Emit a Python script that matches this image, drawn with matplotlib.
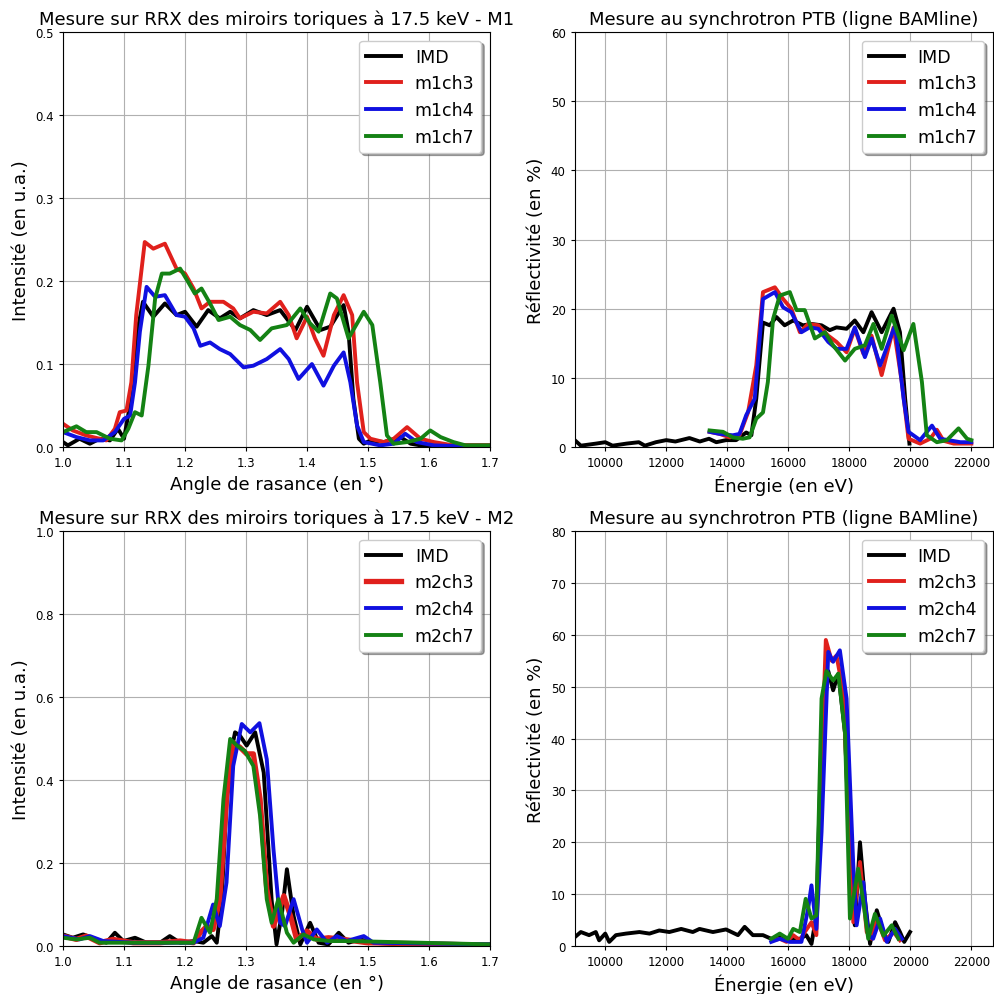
import numpy as np
import matplotlib
matplotlib.use("Agg")
import matplotlib.pyplot as plt

# --- M1 : RRX (angle, intensity) ---
m1_imd_x = [1.0, 1.008, 1.027, 1.044, 1.06, 1.077, 1.09, 1.1, 1.112, 1.122, 1.131, 1.148, 1.167, 1.186, 1.2,
            1.219, 1.238, 1.257, 1.274, 1.29, 1.312, 1.334, 1.356, 1.381, 1.4, 1.422, 1.438, 1.46, 1.468,
            1.476, 1.485, 1.493, 1.504, 1.526, 1.553, 1.57, 1.586, 1.62, 1.7]
m1_imd_y = [0.006, 0.002, 0.01, 0.004, 0.01, 0.008, 0.022, 0.01, 0.06, 0.14, 0.175, 0.157, 0.173, 0.159, 0.163,
            0.145, 0.165, 0.155, 0.163, 0.155, 0.165, 0.159, 0.165, 0.141, 0.169, 0.141, 0.145, 0.171, 0.139,
            0.058, 0.01, 0.004, 0.008, 0.006, 0.012, 0.004, 0.002, 0.002, 0.002]

m1_ch3_x = [1.0, 1.016, 1.038, 1.06, 1.071, 1.085, 1.093, 1.104, 1.112, 1.12, 1.134, 1.148, 1.167, 1.186,
            1.2, 1.214, 1.227, 1.241, 1.263, 1.279, 1.29, 1.312, 1.334, 1.356, 1.37, 1.383, 1.4, 1.413,
            1.427, 1.444, 1.46, 1.474, 1.482, 1.493, 1.504, 1.526, 1.542, 1.564, 1.586, 1.608, 1.64, 1.7]
m1_ch3_y = [0.028, 0.02, 0.014, 0.01, 0.008, 0.022, 0.042, 0.044, 0.078, 0.159, 0.247, 0.239, 0.245, 0.215,
            0.209, 0.191, 0.167, 0.175, 0.175, 0.167, 0.155, 0.163, 0.161, 0.175, 0.159, 0.131, 0.157, 0.131,
            0.11, 0.159, 0.183, 0.159, 0.078, 0.018, 0.01, 0.006, 0.01, 0.024, 0.01, 0.006, 0.002, 0.002]

m1_ch4_x = [1.0, 1.022, 1.044, 1.066, 1.085, 1.1, 1.11, 1.118, 1.126, 1.137, 1.151, 1.167, 1.186, 1.2, 1.214,
            1.225, 1.241, 1.257, 1.274, 1.296, 1.312, 1.334, 1.356, 1.37, 1.386, 1.408, 1.427, 1.444, 1.46,
            1.471, 1.482, 1.493, 1.52, 1.542, 1.561, 1.58, 1.608, 1.7]
m1_ch4_y = [0.018, 0.012, 0.008, 0.008, 0.018, 0.034, 0.038, 0.078, 0.139, 0.193, 0.181, 0.183, 0.159, 0.157,
            0.143, 0.122, 0.126, 0.118, 0.112, 0.096, 0.098, 0.106, 0.118, 0.106, 0.082, 0.1, 0.074, 0.098,
            0.114, 0.078, 0.026, 0.006, 0.002, 0.004, 0.016, 0.006, 0.002, 0.0]

m1_ch7_x = [1.0, 1.022, 1.038, 1.055, 1.077, 1.096, 1.107, 1.118, 1.129, 1.14, 1.151, 1.162, 1.175, 1.192,
            1.205, 1.216, 1.227, 1.241, 1.255, 1.274, 1.29, 1.307, 1.323, 1.342, 1.367, 1.389, 1.405, 1.419,
            1.438, 1.449, 1.468, 1.493, 1.507, 1.52, 1.531, 1.542, 1.564, 1.586, 1.602, 1.619, 1.64, 1.66, 1.7]
m1_ch7_y = [0.018, 0.025, 0.018, 0.018, 0.01, 0.008, 0.022, 0.042, 0.038, 0.098, 0.179, 0.209, 0.209, 0.215,
            0.199, 0.185, 0.191, 0.173, 0.153, 0.157, 0.147, 0.141, 0.129, 0.143, 0.147, 0.167, 0.149, 0.139,
            0.185, 0.179, 0.131, 0.163, 0.147, 0.078, 0.014, 0.004, 0.006, 0.01, 0.02, 0.012, 0.006, 0.002, 0.002]

# --- M1 : synchrotron (energy, reflectivity) ---
s1_imd_x = [9000, 9200, 9700, 10000, 10240, 10700, 11100, 11300, 11660, 12000, 12300, 12760, 13100, 13400,
            13640, 13960, 14290, 14620, 14790, 14950, 15170, 15390, 15610, 15880, 16160, 16480, 16760, 17090,
            17360, 17580, 17910, 18180, 18460, 18730, 19060, 19450, 19660, 19830, 19970]
s1_imd_y = [1.0, 0.2, 0.5, 0.7, 0.2, 0.5, 0.7, 0.2, 0.7, 1.0, 0.8, 1.3, 0.8, 1.2,
            0.7, 1.0, 1.0, 2.1, 1.7, 7.0, 18.0, 17.6, 18.8, 17.6, 18.3, 17.6, 17.8, 17.6,
            16.9, 17.3, 17.1, 18.3, 16.6, 19.5, 16.6, 20.0, 16.6, 7.0, 0.5]

s1_ch3_x = [13420, 13750, 14080, 14400, 14680, 14950, 15170, 15560, 15830, 16100, 16380, 16650, 16980,
            17310, 17580, 17910, 18180, 18460, 18730, 19060, 19450, 19720, 19940, 20320, 20650, 20870,
            21090, 21420, 22000]
s1_ch3_y = [2.2, 1.9, 1.4, 1.7, 5.0, 11.8, 22.4, 23.1, 21.4, 20.0, 16.6, 17.8, 17.6,
            16.1, 15.2, 13.7, 17.1, 13.5, 16.1, 10.4, 17.3, 9.4, 1.2, 0.5, 1.2, 2.5,
            0.9, 0.5, 0.5]

s1_ch4_x = [13420, 13750, 14180, 14400, 14620, 14900, 15170, 15560, 15830, 16100, 16430, 16700, 16980,
            17310, 17580, 17910, 18180, 18510, 18730, 19010, 19500, 19780, 19940, 20320, 20710, 20980,
            21640, 22000]
s1_ch4_y = [2.2, 1.9, 1.7, 1.9, 4.6, 7.0, 21.4, 22.4, 20.2, 19.5, 16.6, 17.3, 17.1,
            15.2, 14.2, 14.2, 17.3, 13.0, 15.7, 11.8, 17.6, 7.0, 2.2, 1.0, 3.1, 1.2,
            0.7, 0.7]

s1_ch7_x = [13420, 13860, 14180, 14510, 14730, 14950, 15170, 15330, 15500, 15720, 16050, 16270, 16540,
            16870, 17200, 17470, 17860, 18180, 18510, 18790, 19060, 19390, 19780, 20100, 20380, 20540,
            20870, 21200, 21580, 21860, 22000]
s1_ch7_y = [2.4, 2.2, 1.4, 1.2, 1.4, 4.1, 5.0, 9.4, 18.5, 21.9, 22.4, 19.8, 19.8,
            15.7, 16.6, 14.7, 12.5, 14.2, 14.7, 17.8, 14.2, 19.0, 14.0, 17.8, 9.4, 1.7,
            0.7, 1.0, 2.7, 1.2, 1.0]

# --- M2 : RRX ---
m2_imd_x = [1.0, 1.016, 1.033, 1.055, 1.071, 1.085, 1.099, 1.118, 1.137, 1.159, 1.175, 1.192, 1.214, 1.23,
            1.244, 1.252, 1.26, 1.271, 1.282, 1.29, 1.301, 1.315, 1.329, 1.342, 1.35, 1.359, 1.367, 1.378,
            1.389, 1.405, 1.419, 1.435, 1.452, 1.468, 1.487, 1.509, 1.553, 1.7]
m2_imd_y = [0.028, 0.02, 0.028, 0.016, 0.008, 0.032, 0.012, 0.02, 0.008, 0.008, 0.024, 0.008, 0.012, 0.008,
            0.024, 0.008, 0.11, 0.434, 0.515, 0.507, 0.483, 0.515, 0.418, 0.11, 0.004, 0.08, 0.185, 0.072,
            0.004, 0.056, 0.008, 0.004, 0.032, 0.008, 0.016, 0.008, 0.004, 0.004]

m2_ch3_x = [1.0, 1.022, 1.038, 1.06, 1.082, 1.115, 1.159, 1.192, 1.214, 1.225, 1.236, 1.246, 1.257, 1.268,
            1.279, 1.29, 1.301, 1.312, 1.323, 1.334, 1.345, 1.362, 1.373, 1.383, 1.4, 1.416, 1.435, 1.46,
            1.498, 1.7]
m2_ch3_y = [0.024, 0.016, 0.024, 0.008, 0.016, 0.008, 0.008, 0.012, 0.008, 0.032, 0.048, 0.04, 0.113, 0.354,
            0.49, 0.479, 0.463, 0.463, 0.354, 0.137, 0.048, 0.121, 0.072, 0.016, 0.036, 0.016, 0.02, 0.016,
            0.008, 0.002]

m2_ch4_x = [1.0, 1.027, 1.044, 1.066, 1.115, 1.17, 1.214, 1.23, 1.246, 1.257, 1.268, 1.279, 1.293, 1.307,
            1.322, 1.334, 1.345, 1.356, 1.364, 1.378, 1.392, 1.4, 1.416, 1.433, 1.449, 1.465, 1.493, 1.509, 1.7]
m2_ch4_y = [0.024, 0.016, 0.024, 0.012, 0.008, 0.008, 0.008, 0.02, 0.1, 0.048, 0.153, 0.434, 0.535, 0.515,
            0.537, 0.45, 0.233, 0.056, 0.048, 0.113, 0.04, 0.008, 0.04, 0.008, 0.024, 0.012, 0.024, 0.008, 0.004]

m2_ch7_x = [1.0, 1.022, 1.044, 1.06, 1.115, 1.214, 1.227, 1.241, 1.252, 1.263, 1.274, 1.285, 1.298, 1.312,
            1.323, 1.334, 1.342, 1.353, 1.367, 1.378, 1.394, 1.411, 1.438, 1.471, 1.7]
m2_ch7_y = [0.02, 0.016, 0.02, 0.008, 0.008, 0.008, 0.068, 0.032, 0.113, 0.354, 0.499, 0.483, 0.47, 0.434,
            0.314, 0.113, 0.056, 0.113, 0.032, 0.008, 0.028, 0.016, 0.012, 0.012, 0.004]

# --- M2 : synchrotron ---
s2_imd_x = [9000, 9200, 9470, 9690, 9800, 10000, 10130, 10350, 10680, 11120, 11450, 11770, 12100, 12490,
            12870, 13090, 13530, 13960, 14350, 14570, 14840, 15170, 15440, 15720, 16050, 16380, 16590, 16760,
            16920, 17090, 17310, 17470, 17640, 17860, 18070, 18180, 18350, 18510, 18680, 18900, 19120, 19280,
            19500, 19660, 19800, 19990]
s2_imd_y = [1.7, 2.7, 2.1, 2.7, 1.1, 2.4, 0.8, 2.1, 2.4, 2.7, 2.4, 3.0, 2.7, 3.3,
            2.7, 3.3, 2.7, 3.2, 2.1, 3.7, 2.1, 2.1, 1.4, 1.7, 1.4, 1.4, 2.1, 0.4,
            5.9, 41.0, 53.0, 49.3, 52.5, 41.0, 9.0, 4.0, 20.0, 9.0, 0.4, 6.9, 2.7, 0.8,
            4.6, 2.7, 0.8, 2.7]

s2_ch3_x = [15500, 15720, 15940, 16160, 16380, 16540, 16760, 16920, 17090, 17230, 17420, 17580, 17800,
            18020, 18130, 18350, 18570, 18730, 18900, 19170, 19450, 19660]
s2_ch3_y = [1.1, 1.4, 0.8, 2.1, 1.1, 2.7, 4.6, 2.1, 34.8, 59.0, 55.0, 56.0, 49.0,
            18.8, 4.6, 16.2, 2.7, 1.4, 5.3, 1.1, 2.7, 1.1]

s2_ch4_x = [15440, 15720, 16050, 16430, 16650, 16760, 16920, 17090, 17310, 17470, 17690, 17910, 18130,
            18240, 18460, 18620, 18780, 19010, 19230, 19500, 19720]
s2_ch4_y = [0.8, 1.4, 0.8, 0.8, 7.2, 11.7, 3.3, 22.0, 56.7, 54.8, 57.0, 47.7, 15.6,
            4.0, 12.3, 2.1, 1.4, 5.3, 0.8, 3.3, 1.4]

s2_ch7_x = [15440, 15720, 15990, 16160, 16380, 16570, 16760, 16920, 17090, 17250, 17470, 17640, 17860,
            18020, 18290, 18460, 18620, 18840, 19120, 19390, 19610]
s2_ch7_y = [1.4, 2.4, 1.4, 3.3, 2.7, 9.1, 5.3, 5.9, 47.7, 53.0, 51.2, 52.5, 41.0,
            5.3, 14.9, 8.5, 1.4, 6.2, 2.0, 4.0, 1.4]

fig = plt.figure(figsize=(9.94, 9.95), dpi=100)

ax1 = fig.add_axes([0.0634, 0.5497, 0.4296, 0.4171])
ax2 = fig.add_axes([0.5782, 0.5497, 0.4205, 0.4171])
ax3 = fig.add_axes([0.0634, 0.0482, 0.4296, 0.4171])
ax4 = fig.add_axes([0.5782, 0.0482, 0.4205, 0.4171])

lw = 2.8
c_red = "#e0201c"
c_blue = "#1010e0"
c_green = "#148214"
title_rrx = "Mesure sur RRX des miroirs toriques à 17.5 keV - "
title_syn = "Mesure au synchrotron PTB (ligne BAMline)"

# top left
ax1.plot(m1_imd_x, m1_imd_y, color="k", lw=lw, label="IMD")
ax1.plot(m1_ch3_x, m1_ch3_y, color=c_red, lw=lw, label="m1ch3")
ax1.plot(m1_ch4_x, m1_ch4_y, color=c_blue, lw=lw, label="m1ch4")
ax1.plot(m1_ch7_x, m1_ch7_y, color=c_green, lw=lw, label="m1ch7")
ax1.set_xlim(1.0, 1.7)
ax1.set_ylim(0, 0.5)
ax1.set_title(title_rrx + "M1", fontsize=13)
ax1.set_xlabel("Angle de rasance (en °)", fontsize=13)
ax1.set_ylabel("Intensité (en u.a.)", fontsize=13)

# top right
ax2.plot(s1_imd_x, s1_imd_y, color="k", lw=lw, label="IMD")
ax2.plot(s1_ch3_x, s1_ch3_y, color=c_red, lw=lw, label="m1ch3")
ax2.plot(s1_ch4_x, s1_ch4_y, color=c_blue, lw=lw, label="m1ch4")
ax2.plot(s1_ch7_x, s1_ch7_y, color=c_green, lw=lw, label="m1ch7")
ax2.set_xlim(9000, 22700)
ax2.set_ylim(0, 60)
ax2.set_title(title_syn, fontsize=13)
ax2.set_xlabel("Énergie (en eV)", fontsize=13)
ax2.set_ylabel("Réflectivité (en %)", fontsize=13)

# bottom left
ax3.plot(m2_imd_x, m2_imd_y, color="k", lw=lw, label="IMD")
ax3.plot(m2_ch3_x, m2_ch3_y, color=c_red, lw=3.8, label="m2ch3")
ax3.plot(m2_ch4_x, m2_ch4_y, color=c_blue, lw=lw, label="m2ch4")
ax3.plot(m2_ch7_x, m2_ch7_y, color=c_green, lw=lw, label="m2ch7")
ax3.set_xlim(1.0, 1.7)
ax3.set_ylim(0, 1.0)
ax3.set_title(title_rrx + "M2", fontsize=13)
ax3.set_xlabel("Angle de rasance (en °)", fontsize=13)
ax3.set_ylabel("Intensité (en u.a.)", fontsize=13)

# bottom right
ax4.plot(s2_imd_x, s2_imd_y, color="k", lw=lw, label="IMD")
ax4.plot(s2_ch3_x, s2_ch3_y, color=c_red, lw=lw, label="m2ch3")
ax4.plot(s2_ch4_x, s2_ch4_y, color=c_blue, lw=lw, label="m2ch4")
ax4.plot(s2_ch7_x, s2_ch7_y, color=c_green, lw=lw, label="m2ch7")
ax4.set_xlim(9000, 22700)
ax4.set_ylim(0, 80)
ax4.set_title(title_syn, fontsize=13)
ax4.set_xlabel("Énergie (en eV)", fontsize=13)
ax4.set_ylabel("Réflectivité (en %)", fontsize=13)

for ax in [ax1, ax2, ax3, ax4]:
    ax.grid(True, color="#b0b0b0", lw=0.8)
    ax.tick_params(labelsize=8.5, length=3)
    ax.legend(loc="upper right", fontsize=12.5, shadow=True)

fig.savefig("out.png", dpi=100)
